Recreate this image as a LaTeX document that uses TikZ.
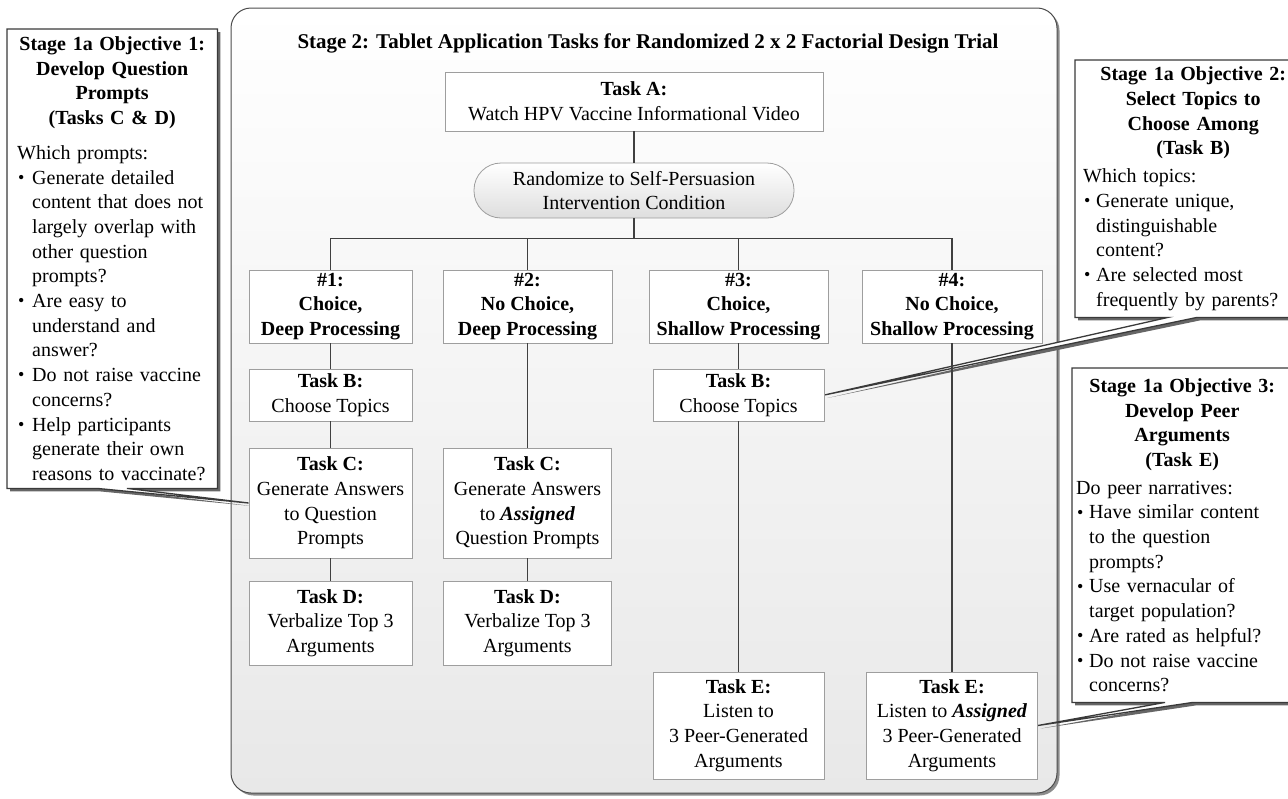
\documentclass[tikz,border=0pt]{standalone}
\usepackage{fontspec}
\setmainfont{Liberation Serif}
\usetikzlibrary{shadows,backgrounds}
\definecolor{conncol}{HTML}{404040}
\definecolor{taskgray}{HTML}{9E9E9E}
\definecolor{edgecol}{HTML}{3A3A3A}
\newcommand{\smallbullet}{\raisebox{0.8pt}{\fontsize{18}{18}\selectfont\textbullet}}
\newcommand{\bul}{\makebox[15pt][l]{\hspace{1pt}\smallbullet}}
\newcommand{\ind}{\hspace*{15pt}}
\newcommand{\bulb}{\makebox[13pt][l]{\hspace{1pt}\smallbullet}}
\newcommand{\indb}{\hspace*{13pt}}
\begin{document}
\begin{tikzpicture}[x=1pt,y=-1pt,
  base/.style={font=\fontsize{20}{24.7}\selectfont, inner sep=0pt},
  task/.style={base, draw=taskgray, line width=0.8pt, fill=white, align=center},
  condbox/.style={task, font=\fontsize{20}{24.7}\selectfont\bfseries},
  pill/.style={base, draw=taskgray, line width=0.8pt, align=center, rounded corners=27pt, top color=white, bottom color=black!13},
  conn/.style={draw=conncol, line width=1.1pt},
  calltext/.style={base, anchor=north west},
  callshape/.style={fill=white, draw=edgecol, line width=1.3pt, line join=miter, drop shadow={shadow xshift=3pt, shadow yshift=-3pt, fill=black!60, opacity=1}},
  framebox/.style={draw=black!70, line width=1pt, rounded corners=20pt, top color=white, bottom color=black!9, drop shadow={shadow xshift=2.5pt, shadow yshift=-2.5pt, fill=black!45, opacity=1}}
]
\useasboundingbox (0,0) rectangle (1288,798);
\begin{scope}[on background layer]
\node[framebox, minimum width=826pt, minimum height=785pt] (frame) at (644,400.5) {};
\end{scope}

\node[base, font=\fontsize{21}{25}\selectfont\bfseries] (title) at (648,43) {Stage 2: Tablet Application Tasks for Randomized 2 x 2 Factorial Design Trial};

\node[task, minimum width=378pt, minimum height=59pt] (A) at (634,101.5) {\textbf{Task A:}\\Watch HPV Vaccine Informational Video};
\node[pill, minimum width=320pt, minimum height=55pt] (R) at (634,190.5) {Randomize to Self-Persuasion\\Intervention Condition};

\node[condbox, minimum width=163pt, minimum height=73pt] (n1) at (330.5,306.5) {\#1:\\Choice,\\Deep Processing};
\node[condbox, minimum width=169pt, minimum height=73pt] (n2) at (527.5,306.5) {\#2:\\No Choice,\\Deep Processing};
\node[condbox, minimum width=179pt, minimum height=73pt] (n3) at (738.5,306.5) {\#3:\\Choice,\\Shallow Processing};
\node[condbox, minimum width=180pt, minimum height=73pt] (n4) at (952,306.5) {\#4:\\No Choice,\\Shallow Processing};

\node[task, minimum width=163pt, minimum height=52pt] (b1) at (330.5,395) {\textbf{Task B:}\\Choose Topics};
\node[task, minimum width=163pt, minimum height=110pt] (c1) at (330.5,503) {\textbf{Task C:}\\Generate Answers\\to Question\\Prompts};
\node[task, minimum width=163pt, minimum height=84pt] (d1) at (330.5,623) {\textbf{Task D:}\\Verbalize Top 3\\Arguments};

\node[task, minimum width=168pt, minimum height=110pt] (c2) at (527.5,503) {\textbf{Task C:}\\Generate Answers\\to \textbf{\textit{Assigned}}\\Question Prompts};
\node[task, minimum width=168pt, minimum height=84pt] (d2) at (527.5,623) {\textbf{Task D:}\\Verbalize Top 3\\Arguments};

\node[task, minimum width=171pt, minimum height=52pt] (b3) at (738.5,395) {\textbf{Task B:}\\Choose Topics};
\node[task, minimum width=171pt, minimum height=107pt] (e3) at (738.5,725.5) {\textbf{Task E:}\\Listen to\\3 Peer-Generated\\Arguments};
\node[task, minimum width=171pt, minimum height=107pt] (e4) at (952,725.5) {\textbf{Task E:}\\Listen to \textbf{\textit{Assigned}}\\3 Peer-Generated\\Arguments};

\draw[conn] (A) -- (R);
\draw[conn] (R.south) -- ++(0,20) coordinate (br);
\draw[conn] (br) -| (n1.north);
\draw[conn] (br) -| (n2.north);
\draw[conn] (br) -| (n3.north);
\draw[conn] (br) -| (n4.north);
\draw[conn] (n1) -- (b1);
\draw[conn] (b1) -- (c1);
\draw[conn] (c1) -- (d1);
\draw[conn] (n2) -- (c2);
\draw[conn] (c2) -- (d2);
\draw[conn] (n3) -- (b3);
\draw[conn] (b3) -- (e3);
\draw[conn] (n4) -- (e4);

% callouts
\node[calltext, text width=190pt, inner xsep=10pt, minimum height=459pt] (L) at (7,29) {%
{\centering\bfseries Stage 1a Objective 1:\\Develop Question\\Prompts\\(Tasks C \& D)\par}%
\vspace{10pt}%
{\raggedright Which prompts:\\
\bul Generate detailed\\
\ind content that does not\\
\ind largely overlap with\\
\ind other question\\
\ind prompts?\\
\bul Are easy to\\
\ind understand and\\
\ind answer?\\
\bul Do not raise vaccine\\
\ind concerns?\\
\bul Help participants\\
\ind generate their own\\
\ind reasons to vaccinate?\par}};

\node[calltext, text width=220pt, inner xsep=8pt, minimum height=257pt] (O2) at (1075,60) {%
{\centering\bfseries Stage 1a Objective 2:\\Select Topics to\\Choose Among\\(Task B)\par}%
\vspace{3pt}%
{\raggedright Which topics:\\
\bulb Generate unique,\\
\indb distinguishable\\
\indb content?\\
\bulb Are selected most\\
\indb frequently by parents?\par}};

\node[calltext, text width=212pt, inner xsep=4pt, minimum height=334pt] (O3) at (1072,368) {%
{\centering\bfseries Stage 1a Objective 3:\\Develop Peer\\Arguments\\(Task E)\par}%
\vspace{3pt}%
{\raggedright Do peer narratives:\\
\bulb Have similar content\\
\indb to the question\\
\indb prompts?\\
\bulb Use vernacular of\\
\indb target population?\\
\bulb Are rated as helpful?\\
\bulb Do not raise vaccine\\
\indb concerns?\par}};

\begin{scope}[on background layer]
\path[callshape] (L.north west) -- (L.north east) -- (L.south east)
  -- ([xshift=120pt]L.south west) -- (c1.west) -- ([xshift=90pt]L.south west)
  -- (L.south west) -- cycle;
\path[callshape] (O2.north west) -- (O2.north east) -- (O2.south east)
  -- ([xshift=122pt]O2.south west) -- (b3.east) -- ([xshift=93pt]O2.south west)
  -- (O2.south west) -- cycle;
\path[callshape] (O3.north west) -- (O3.north east) -- (O3.south east)
  -- ([xshift=121pt]O3.south west) -- (e4.east) -- ([xshift=93pt]O3.south west)
  -- (O3.south west) -- cycle;
\end{scope}
\end{tikzpicture}
\end{document}
